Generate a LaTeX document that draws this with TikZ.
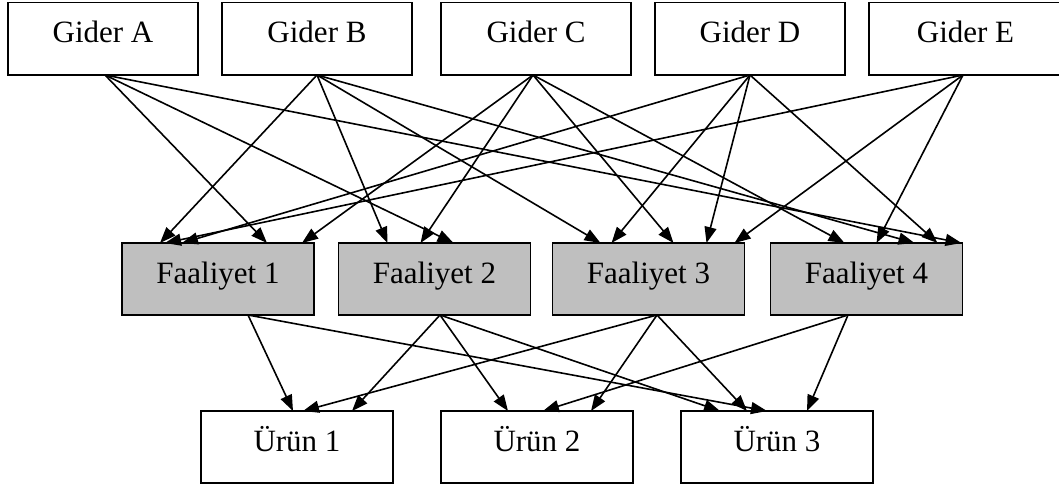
\documentclass[tikz,border=0pt]{standalone}
\usepackage{fontspec}
\setmainfont{Liberation Serif}
\usetikzlibrary{arrows.meta}
\begin{document}
\begin{tikzpicture}[x=1pt,y=-1pt,
  box/.style={draw, line width=1.9pt, minimum width=190pt, minimum height=72.5pt,
    inner sep=0pt, outer sep=0pt, text height=20pt, text depth=11.5pt,
    font=\fontsize{31}{37}\selectfont},
  act/.style={box, fill=gray!50, minimum width=192pt, minimum height=72pt},
  prod/.style={box, minimum width=192pt, minimum height=72pt},
  edge/.style={line width=1.6pt, -{Triangle[length=16pt,width=12pt]}}]
\useasboundingbox (0,0) rectangle (1059,487);
% top row
\node[box] (ga) at (103,38.75) {Gider A};
\node[box] (gb) at (317,38.75) {Gider B};
\node[box] (gc) at (536,38.75) {Gider C};
\node[box] (gd) at (750,38.75) {Gider D};
\node[box, minimum width=193pt] (ge) at (965.5,38.75) {Gider E};
% middle row
\node[act] (f1) at (218,279) {Faaliyet 1};
\node[act] (f2) at (434.5,279) {Faaliyet 2};
\node[act] (f3) at (648.5,279) {Faaliyet 3};
\node[act] (f4) at (866.5,279) {Faaliyet 4};
% bottom row
\node[prod] (u1) at (297,447) {Ürün 1};
\node[prod] (u2) at (537,447) {Ürün 2};
\node[prod] (u3) at (777,447) {Ürün 3};
% Gider -> Faaliyet
\draw[edge] ([xshift=2pt]ga.south) -- ([xshift=49pt]f1.north);
\draw[edge] ([xshift=2pt]ga.south) -- ([xshift=19pt]f2.north);
\draw[edge] ([xshift=2pt]ga.south) -- ([xshift=95pt]f4.north);
\draw[edge] (gb.south) -- ([xshift=-58pt]f1.north);
\draw[edge] (gb.south) -- ([xshift=-47pt]f2.north);
\draw[edge] (gb.south) -- ([xshift=-48pt]f3.north);
\draw[edge] (gb.south) -- ([xshift=48pt]f4.north);
\draw[edge] ([xshift=-3pt]gc.south) -- ([xshift=84pt]f1.north);
\draw[edge] ([xshift=-3pt]gc.south) -- ([xshift=-14pt]f2.north);
\draw[edge] ([xshift=-3pt]gc.south) -- ([xshift=25pt]f3.north);
\draw[edge] ([xshift=-3pt]gc.south) -- ([xshift=-22pt]f4.north);
\draw[edge] (gd.south) -- ([xshift=-36pt]f1.north);
\draw[edge] (gd.south) -- ([xshift=-37pt]f3.north);
\draw[edge] (gd.south) -- ([xshift=58pt]f3.north);
\draw[edge] (gd.south) -- ([xshift=71pt]f4.north);
\draw[edge] ([xshift=-2.5pt]ge.south) -- ([xshift=-53pt]f1.north);
\draw[edge] ([xshift=-2.5pt]ge.south) -- ([xshift=86pt]f3.north);
\draw[edge] ([xshift=-2.5pt]ge.south) -- ([xshift=10pt]f4.north);
% Faaliyet -> Urun
\draw[edge] ([xshift=30pt]f1.south) -- ([xshift=-4pt]u1.north);
\draw[edge] ([xshift=30pt]f1.south) -- ([xshift=-10pt]u3.north);
\draw[edge] ([xshift=5.5pt]f2.south) -- ([xshift=55pt]u1.north);
\draw[edge] ([xshift=5.5pt]f2.south) -- ([xshift=-29pt]u2.north);
\draw[edge] ([xshift=5.5pt]f2.south) -- ([xshift=-57pt]u3.north);
\draw[edge] ([xshift=8.5pt]f3.south) -- ([xshift=6pt]u1.north);
\draw[edge] ([xshift=8.5pt]f3.south) -- ([xshift=54pt]u2.north);
\draw[edge] ([xshift=8.5pt]f3.south) -- ([xshift=-30pt]u3.north);
\draw[edge] ([xshift=-18.5pt]f4.south) -- ([xshift=6pt]u2.north);
\draw[edge] ([xshift=-18.5pt]f4.south) -- ([xshift=30pt]u3.north);
\end{tikzpicture}
\end{document}
